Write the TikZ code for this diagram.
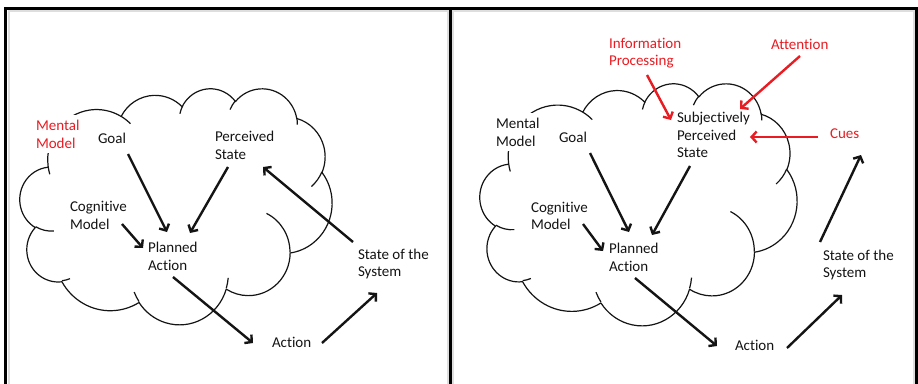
\documentclass[tikz,border=0pt]{standalone}
\usepackage{fontspec}
\setmainfont{Carlito}[Ligatures=NoCommon]
\usetikzlibrary{arrows.meta}

\definecolor{pptred}{RGB}{232,28,34}
\definecolor{ink}{RGB}{20,20,20}

\tikzset{
  % elliptical arc given by radii, start angle and sweep (angles measured
  % on the ellipse as seen, not parametric), continuing from the current point
  carc/.style n args={4}{insert path={arc[x radius=#1pt, y radius=#2pt,
      start angle={atan2((#1)*sin(#3),(#2)*cos(#3))},
      delta angle={atan2((#1)*sin((#3)+(#4)),(#2)*cos((#3)+(#4)))-atan2((#1)*sin(#3),(#2)*cos(#3))-360*round((atan2((#1)*sin((#3)+(#4)),(#2)*cos((#3)+(#4)))-atan2((#1)*sin(#3),(#2)*cos(#3))-(#4))/360)}]}},
  cloudline/.style={line width=1.2pt, ink, line join=round},
  frame/.style={line width=3pt, black},
  shade/.style={line width=2pt, black!13},
  lbl/.style={anchor=west, inner sep=0pt, outer sep=0pt, align=left, text=ink,
              font=\fontsize{15}{17.7}\selectfont},
  redlbl/.style={lbl, text=pptred},
  arr/.style={line width=2.4pt, ink, -{Straight Barb[length=5pt, width=11pt]}},
  redarr/.style={arr, pptred},
}

% thought cloud in a 43.2 x 43.2 box, y pointing down
\newcommand\thoughtcloud{%
  \draw[cloudline] (3.9,14.37)
    [carc={6.753}{9.19}{-190.4875}{123.7805}]
    [carc={5.333}{7.267}{-144.1024}{89.9452}]
    [carc={4.365}{5.945}{-145.8079}{99.7230}]
    [carc={4.857}{6.595}{-130.9861}{117.2417}]
    [carc={5.333}{7.273}{-78.7089}{109.0269}]
    [carc={6.775}{9.22}{-46.2673}{130.2690}]
    [carc={5.785}{7.867}{0.6250}{114.0333}]
    [carc={6.752}{9.215}{22.4516}{115.1726}]
    [carc={7.72}{10.543}{66.2426}{75.7110}]
    [carc={4.36}{5.918}{-274.9421}{146.7356}]
    [carc={4.345}{5.945}{-246.8285}{152.5189}] -- cycle;
  \draw[cloudline]
    (4.693,26.177) [carc={4.345}{5.945}{86.742}{26.4295}]
    (6.928,34.899) [carc={4.36}{5.918}{73.6105}{11.4475}]
    (16.478,39.09) [carc={6.752}{9.215}{137.6242}{14.0811}]
    (28.827,34.751) [carc={6.752}{9.215}{6.4533}{15.9984}]
    (34.129,22.954) [carc={5.785}{7.867}{-70.2924}{70.9174}]
    (41.798,15.354) [carc={5.333}{7.273}{30.318}{27.7515}]
    (38.324,5.426) [carc={4.857}{6.595}{-13.7443}{14.8589}]
    (29.078,3.952) [carc={4.857}{6.595}{-149.1815}{18.1954}]
    (22.141,4.72) [carc={4.365}{5.945}{-163.4943}{17.6864}]
    (14.0,5.192) [carc={6.753}{9.19}{-66.707}{12.3194}]
    (4.127,15.789) [carc={6.753}{9.19}{157.6544}{11.8582}];
}

\begin{document}
\begin{tikzpicture}[x=1pt, y=-1pt]
\useasboundingbox (0,0) rectangle (918,383);
\clip (0,0) rectangle (918,383);
\fill[white] (0,0) rectangle (918,383);

% panel frames with their soft inner shadow
\draw[shade] (8.5,390) -- (8.5,11) -- (447.5,11) -- (447.5,390);
\draw[shade] (452.5,390) -- (452.5,11) -- (914,11) -- (914,390);
\draw[frame] (5.5,390) -- (5.5,8) -- (916.5,8) -- (916.5,390);
\draw[frame] (450,8) -- (450,390);

% clouds
\begin{scope}[shift={(20,88)}, x=1pt, y=1pt, xscale=312/43.2, yscale=-236/43.2]
  \thoughtcloud
\end{scope}
\begin{scope}[shift={(480,83)}, x=1pt, y=1pt, xscale=317/43.2, yscale=-242/43.2]
  \thoughtcloud
\end{scope}

% left panel
\node[redlbl, fill=white, inner xsep=1pt, inner ysep=5pt] (mm1) at (35,134) {Mental\\Model};
\node[lbl] (goal1) at (98,138) {Goal};
\node[lbl] (ps1) at (215,145.5) {Perceived\\State};
\node[lbl] (cm1) at (70,215.5) {Cognitive\\Model};
\node[lbl] (pa1) at (148,256) {Planned\\Action};
\node[lbl] (ss1) at (358,264) {State of the\\System};
\node[lbl] (ac1) at (272,342) {Action};

\draw[arr] ([shift={(30,16)}]goal1.west) -- ([shift={(19,-24)}]pa1.west);
\draw[arr] ([shift={(13,21.5)}]ps1.west) -- ([shift={(42,-23)}]pa1.west);
\draw[arr] ([shift={(52,8.5)}]cm1.west) -- ([shift={(-5,-8)}]pa1.west);
\draw[arr] ([shift={(25,21)}]pa1.west) -- ([shift={(-19,1)}]ac1.west);
\draw[arr] ([shift={(50,1)}]ac1.west) -- ([shift={(19,29)}]ss1.west);
\draw[arr] ([shift={(-5,-22)}]ss1.west) -- ([shift={(48,21.5)}]ps1.west);

% right panel
\node[lbl, fill=white, inner xsep=1pt, inner ysep=5pt] (mm2) at (495,132) {Mental\\Model};
\node[lbl] (goal2) at (559,137) {Goal};
\node[redlbl] (ip) at (609,53) {Information\\Processing};
\node[redlbl] (att) at (771,44) {Attention};
\node[lbl, fill=white, inner xsep=5pt, inner ysep=2pt] (sps) at (672,135) {Subjectively\\Perceived\\State};
\node[redlbl] (cues) at (830,134) {Cues};
\node[lbl] (cm2) at (531,216) {Cognitive\\Model};
\node[lbl] (pa2) at (609,257.5) {Planned\\Action};
\node[lbl] (ss2) at (823,265) {State of the\\System};
\node[lbl] (ac2) at (735,345) {Action};
\coordinate (sky) at (861,155);

\draw[arr] ([shift={(31,16)}]goal2.west) -- ([shift={(20,-25.5)}]pa2.west);
\draw[arr] ([shift={(18,31)}]sps.west) -- ([shift={(43,-22.5)}]pa2.west);
\draw[arr] ([shift={(52,8)}]cm2.west) -- ([shift={(-6,-6.5)}]pa2.west);
\draw[arr] ([shift={(26,20.5)}]pa2.west) -- ([shift={(-18,1)}]ac2.west);
\draw[arr] ([shift={(52,3)}]ac2.west) -- ([shift={(19,30)}]ss2.west);
\draw[arr] ([shift={(-3,-23)}]ss2.west) -- (sky);
\draw[redarr] ([shift={(38,22)}]ip.west) -- ([shift={(-1,-15)}]sps.west);
\draw[redarr] ([shift={(29,12)}]att.west) -- ([shift={(68,-26)}]sps.west);
\draw[redarr] ([shift={(-12,3)}]cues.west) -- ([shift={(78,2)}]sps.west);
\end{tikzpicture}
\end{document}
